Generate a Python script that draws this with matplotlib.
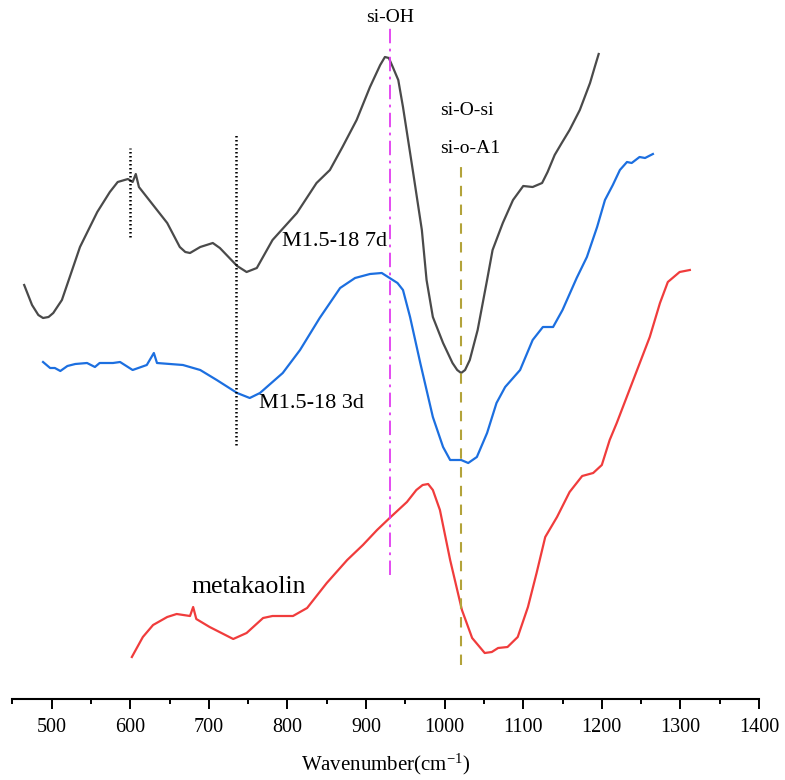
import numpy as np
import matplotlib
matplotlib.use("Agg")
import matplotlib.pyplot as plt

# -------- DATA (wavenumber cm-1, intensity a.u.) --------
wn_7d = [465, 469, 475, 483, 489, 496, 502, 513, 523, 536, 558, 574, 584, 597, 603, 607, 611,
         634, 647, 663, 670, 676, 689, 705, 714, 736, 748, 761, 781, 812, 837, 854, 870, 888,
         905, 918, 924, 929, 934, 941, 947, 960, 971, 977, 985, 998, 1010, 1016, 1021, 1026,
         1032, 1042, 1054, 1061, 1074, 1087, 1100, 1112, 1124, 1131, 1140, 1149, 1159, 1172,
         1185, 1191, 1196]
int_7d = [41.4, 40.6, 39.4, 38.4, 38.1, 38.2, 38.6, 39.9, 42.2, 45.2, 48.7, 50.7, 51.7, 52.0, 51.7, 52.5, 51.2,
          48.9, 47.6, 45.2, 44.7, 44.6, 45.2, 45.6, 45.1, 43.3, 42.7, 43.1, 45.9, 48.6, 51.6, 52.9, 55.2, 57.9,
          61.2, 63.4, 64.2, 64.1, 63.2, 61.9, 59.2, 52.6, 46.9, 41.9, 38.2, 35.6, 33.6, 32.9, 32.6, 32.9,
          33.9, 36.9, 41.9, 44.9, 47.6, 49.9, 51.3, 51.2, 51.6, 52.7, 54.4, 55.6, 56.9, 58.9,
          61.6, 63.2, 64.5]

wn_3d = [489, 498, 504, 511, 520, 530, 545, 555, 561, 578, 587, 603, 621, 630, 634, 667, 689, 710, 736, 752,
         765, 794, 816, 841, 867, 886, 905, 920, 930, 940, 947, 956, 969, 985, 998, 1007, 1021,
         1030, 1041, 1054, 1066, 1077, 1096, 1112, 1125, 1138, 1150, 1168, 1181, 1194, 1204,
         1214, 1223, 1232, 1238, 1248, 1255, 1265]
int_3d = [33.7, 33.1, 33.1, 32.8, 33.3, 33.5, 33.6, 33.2, 33.6, 33.6, 33.7, 32.9, 33.4, 34.6, 33.6, 33.4, 32.9, 31.9, 30.6, 30.1,
          30.6, 32.6, 34.9, 38.1, 41.1, 42.1, 42.5, 42.6, 42.1, 41.6, 40.9, 38.2, 33.6, 28.2, 25.2, 23.9, 23.9,
          23.6, 24.2, 26.6, 29.6, 31.2, 32.9, 35.9, 37.2, 37.2, 38.9, 42.1, 44.2, 47.2, 49.9,
          51.4, 52.9, 53.7, 53.6, 54.2, 54.1, 54.5]

wn_mk = [602, 616, 629, 647, 659, 676, 680, 684, 701, 731, 748, 769, 781, 807, 825, 850,
         876, 896, 914, 930, 952, 964, 972, 979, 985, 994, 1007, 1022, 1035, 1051, 1060, 1068, 1080,
         1093, 1106, 1117, 1128, 1143, 1159, 1175, 1189, 1200, 1210, 1219, 1240, 1261, 1274,
         1284, 1299, 1312]
int_mk = [4.2, 6.2, 7.4, 8.2, 8.5, 8.3, 9.2, 8.0, 7.2, 6.0, 6.6, 8.1, 8.3, 8.3, 9.1, 11.6,
          13.9, 15.4, 16.9, 18.1, 19.7, 20.9, 21.4, 21.5, 20.9, 18.9, 13.9, 8.9, 6.1, 4.6, 4.7, 5.1, 5.2,
          6.2, 9.2, 12.6, 16.2, 18.2, 20.7, 22.3, 22.6, 23.4, 25.9, 27.6, 31.9, 36.2, 39.6,
          41.7, 42.7, 42.9]

# marker lines: position, y range
mark_pos = [600, 735, 930, 1021]
mark_lo = [46.2, 25.4, 12.4, 3.4]
mark_hi = [55.1, 56.4, 67.3, 53.4]

plt.rcParams['font.family'] = ['Liberation Serif', 'DejaVu Serif']
plt.rcParams['mathtext.fontset'] = 'custom'
plt.rcParams['mathtext.rm'] = 'Liberation Serif'
plt.rcParams['mathtext.it'] = 'Liberation Serif:italic'

fig = plt.figure(figsize=(7.85, 7.80), dpi=100)
ax = fig.add_axes([12 / 785, 81 / 780, 747 / 785, 699 / 780])

ax.plot(wn_7d, int_7d, color="#4a4a4a", lw=1.6)
ax.plot(wn_3d, int_3d, color="#1c6fe0", lw=1.6)
ax.plot(wn_mk, int_mk, color="#f03c3c", lw=1.6)

ax.plot([mark_pos[0]] * 2, [mark_lo[0], mark_hi[0]], color="black", lw=1.8, ls=(0, (0.6, 1.0)))
ax.plot([mark_pos[1]] * 2, [mark_lo[1], mark_hi[1]], color="black", lw=1.8, ls=(0, (0.6, 1.0)))
ax.plot([mark_pos[2]] * 2, [mark_lo[2], mark_hi[2]], color="#e23cf0", lw=1.3, ls=(0, (8, 3, 1.5, 3)))
ax.plot([mark_pos[3]] * 2, [mark_lo[3], mark_hi[3]], color="#b3a33a", lw=1.5, ls=(0, (5, 4)))

ax.text(930, 68.2, "si-OH", ha="center", va="center", fontsize=14)
ax.text(994, 58.9, "si-O-si", ha="left", va="center", fontsize=14)
ax.text(994, 55.1, "si-o-A1", ha="left", va="center", fontsize=14)
ax.text(793, 45.7, "M1.5-18 7d", ha="left", va="center", fontsize=16)
ax.text(764, 29.6, "M1.5-18 3d", ha="left", va="center", fontsize=16)
ax.text(678, 11.2, "metakaolin", ha="left", va="center", fontsize=18.5)

ax.set_xlim(449.5, 1400)
ax.set_ylim(0, 69.9)
ax.set_xticks(np.arange(500, 1401, 100))
ax.set_xticks(np.arange(450, 1401, 50), minor=True)
ax.tick_params(axis="x", which="major", direction="out", length=7, width=1.4, labelsize=14.5, pad=7)
ax.tick_params(axis="x", which="minor", direction="out", length=3.5, width=1.4)
ax.set_yticks([])
for s in ["left", "right", "top"]:
    ax.spines[s].set_visible(False)
ax.spines["bottom"].set_linewidth(1.5)
ax.set_xlabel("Wavenumber(cm$^{-1}$)", fontsize=15, labelpad=10)
ax.patch.set_alpha(0)

fig.savefig("out.png", dpi=100)
